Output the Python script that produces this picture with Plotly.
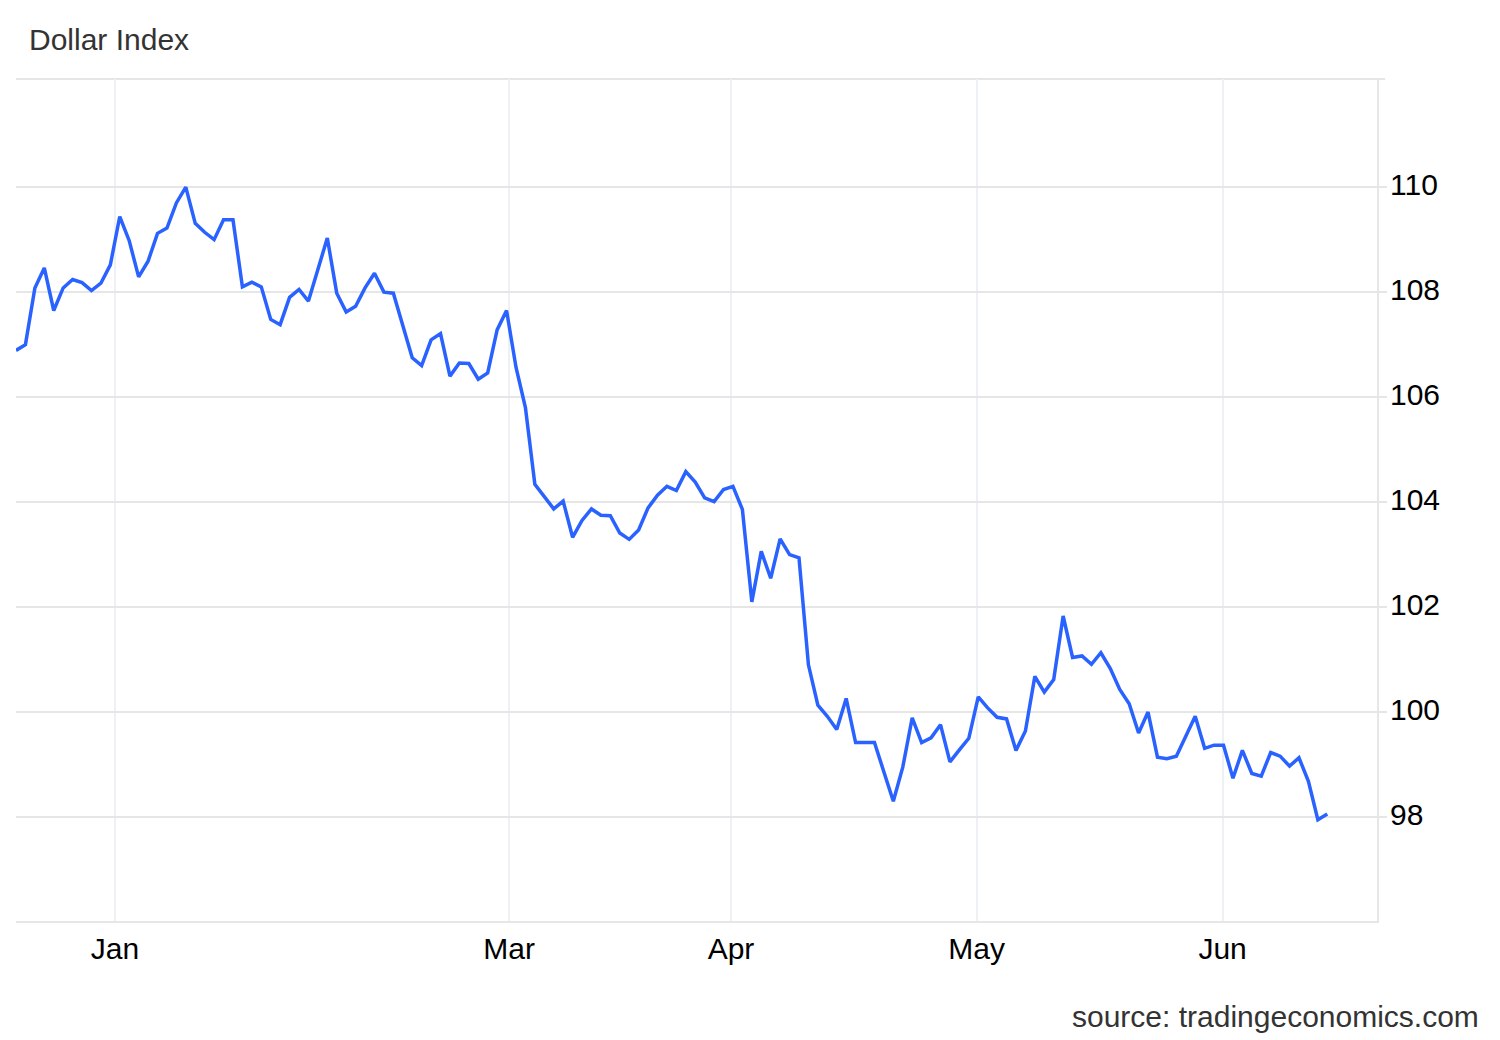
import plotly.graph_objects as go

title_text = "Dollar Index"
source_text = "source: tradingeconomics.com"

dollar_index = [
    106.89, 107.00, 108.08, 108.46, 107.65, 108.08, 108.24, 108.18, 108.03, 108.17,
    108.52, 109.44, 108.98, 108.29, 108.59, 109.12, 109.22, 109.70, 110.00, 109.31,
    109.14, 109.00, 109.38, 109.38, 108.10, 108.19, 108.10, 107.48, 107.38, 107.90,
    108.05, 107.83, 108.43, 109.03, 107.98, 107.62, 107.73, 108.08, 108.36, 108.00,
    107.98, 107.35, 106.75, 106.60, 107.09, 107.21, 106.40, 106.65, 106.64, 106.34,
    106.46, 107.28, 107.65, 106.57, 105.80, 104.34, 104.11, 103.87, 104.02, 103.33,
    103.65, 103.87, 103.75, 103.74, 103.41, 103.29, 103.47, 103.89, 104.13, 104.30,
    104.22, 104.58, 104.38, 104.08, 104.01, 104.24, 104.30, 103.86, 102.10, 103.06,
    102.55, 103.30, 103.00, 102.94, 100.90, 100.13, 99.92, 99.67, 100.26, 99.42,
    99.42, 99.42, 98.86, 98.30, 98.95, 99.89, 99.42, 99.51, 99.76, 99.05,
    99.28, 99.50, 100.29, 100.08, 99.90, 99.87, 99.27, 99.64, 100.68, 100.38,
    100.62, 101.83, 101.04, 101.07, 100.91, 101.13, 100.83, 100.43, 100.16, 99.60,
    100.00, 99.14, 99.11, 99.16, 99.54, 99.92, 99.31, 99.37, 99.37, 98.74,
    99.27, 98.83, 98.78, 99.23, 99.16, 98.97, 99.13, 98.68, 97.95, 98.06,
]

month_labels = ["Jan", "Mar", "Apr", "May", "Jun"]
month_positions = [10.49, 52.28, 75.79, 101.83, 127.9]
y_ticks = [98, 100, 102, 104, 106, 108, 110]

x_index = list(range(len(dollar_index)))

fig = go.Figure(
    go.Scatter(
        x=x_index,
        y=dollar_index,
        mode="lines",
        line=dict(color="#2962ff", width=3.5),
        hoverinfo="skip",
        showlegend=False,
    )
)

FONT = "Liberation Sans, Arial, sans-serif"
GRID = "#e6e6e6"

# the page body adds an 8px offset; margins compensate for it
fig.update_layout(
    width=1500,
    height=1040,
    margin=dict(l=8, r=131, t=71, b=127, pad=0),
    paper_bgcolor="white",
    plot_bgcolor="white",
    font=dict(family=FONT, size=30, color="#000000"),
    title=dict(
        text=title_text,
        font=dict(family=FONT, size=30, color="#333333"),
        x=21 / 1500,
        xanchor="left",
        xref="container",
        y=1 - 31 / 1040,
        yanchor="middle",
        yref="container",
    ),
    xaxis=dict(
        range=[0, 144.27],
        tickmode="array",
        tickvals=month_positions,
        ticktext=month_labels,
        showgrid=True,
        gridcolor="#edf1f6",
        gridwidth=2,
        showline=True,
        linecolor=GRID,
        linewidth=2,
        ticks="",
        zeroline=False,
        tickfont=dict(family=FONT, size=30, color="#000000"),
        fixedrange=True,
    ),
    yaxis=dict(
        side="right",
        range=[96.02, 112.06],
        tickmode="array",
        tickvals=y_ticks,
        ticktext=[str(v) for v in y_ticks],
        showgrid=True,
        gridcolor=GRID,
        gridwidth=2,
        showline=True,
        linecolor=GRID,
        linewidth=2,
        ticks="outside",
        ticklen=8,
        tickwidth=2,
        tickcolor=GRID,
        ticklabelstandoff=-3,
        ticklabelshift=-3,
        zeroline=False,
        tickfont=dict(family=FONT, size=30, color="#000000"),
        fixedrange=True,
    ),
    shapes=[
        dict(
            type="line",
            xref="paper",
            yref="paper",
            x0=0,
            x1=1.0059,
            y0=1,
            y1=1,
            line=dict(color=GRID, width=2),
            layer="below",
        )
    ],
    annotations=[
        dict(
            text=source_text,
            xref="paper",
            yref="paper",
            x=(1481 - 16) / 1361,
            y=(920.5 - 1016) / 842,
            xanchor="right",
            yanchor="middle",
            showarrow=False,
            font=dict(family=FONT, size=30, color="#333333"),
        )
    ],
)

fig.write_html("out.html")
